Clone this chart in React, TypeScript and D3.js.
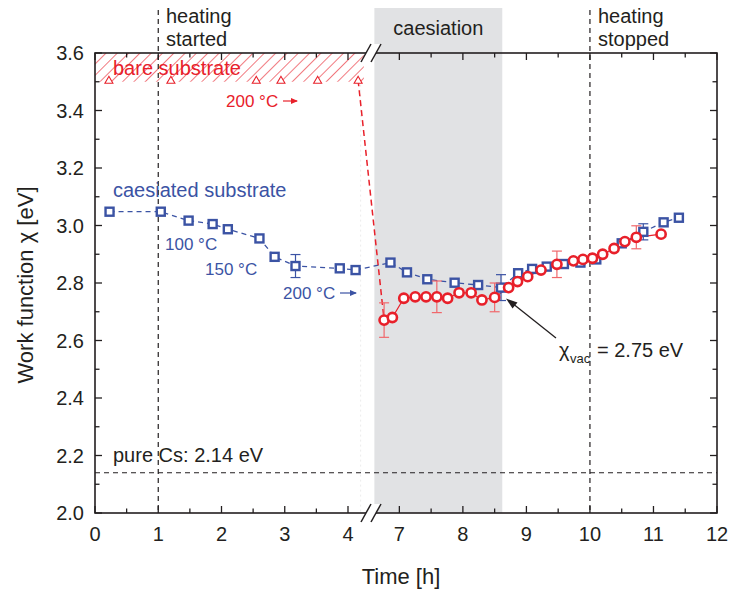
import React from 'react';
import * as d3 from 'd3';

// ---- data ----
const xMajor = [0, 1, 2, 3, 4, 7, 8, 9, 10, 11, 12];
const xMinor = [0.5, 1.5, 2.5, 3.5, 7.5, 8.5, 9.5, 10.5, 11.5];
const yMajor = [2.0, 2.2, 2.4, 2.6, 2.8, 3.0, 3.2, 3.4, 3.6];
const yMinor = [2.1, 2.3, 2.5, 2.7, 2.9, 3.1, 3.3, 3.5];

const blueTime = [0.23, 1.04, 1.48, 1.86, 2.10, 2.60, 2.84, 3.17, 3.87, 4.12, 6.86, 7.12, 7.44, 7.87, 8.24, 8.60, 8.87, 9.09, 9.32, 9.59, 9.85, 10.10, 10.50, 10.84, 11.16, 11.40];
const blueChi = [3.048, 3.048, 3.017, 3.005, 2.987, 2.955, 2.891, 2.859, 2.851, 2.845, 2.871, 2.837, 2.813, 2.801, 2.793, 2.784, 2.834, 2.849, 2.857, 2.866, 2.871, 2.882, 2.938, 2.978, 3.011, 3.027];
const blueErr = [0, 0, 0, 0, 0, 0, 0, 0.04, 0, 0, 0, 0, 0, 0, 0, 0.045, 0, 0, 0, 0, 0, 0, 0, 0.028, 0, 0];

const redTime = [6.76, 6.89, 7.07, 7.25, 7.42, 7.59, 7.76, 7.94, 8.13, 8.30, 8.50, 8.72, 8.86, 9.02, 9.23, 9.48, 9.74, 9.89, 10.04, 10.20, 10.38, 10.55, 10.73, 11.12];
const redChi = [2.671, 2.680, 2.747, 2.752, 2.752, 2.752, 2.747, 2.766, 2.766, 2.741, 2.750, 2.784, 2.805, 2.822, 2.845, 2.865, 2.877, 2.882, 2.886, 2.900, 2.920, 2.944, 2.959, 2.970];
const redErr = [0.06, 0, 0, 0, 0, 0.055, 0, 0, 0, 0, 0.05, 0, 0, 0, 0, 0.046, 0, 0, 0, 0, 0, 0, 0.04, 0];

const bareTime = [0.22, 1.2, 2.55, 2.94, 3.52, 4.16];
const bareChi = [3.505, 3.505, 3.505, 3.505, 3.505, 3.505];

const heatingStart = 1;
const heatingStop = 10;
const caesStart = 6.607;
const caesEnd = 8.62;
const pureCs = 2.14;
const bareTop = 3.6;
const bareBottom = 3.5;
const bareEnd = 4.25;

const BLUE = '#3b53a4';
const RED = '#e8202a';
const RED_ERR = '#f0686c';
const INK = '#231f20';
const FONT = '"Liberation Sans", Arial, Helvetica, sans-serif';

export default function App() {
  const x = d3.scaleLinear().domain([0, 4.37, 6.56, 12]).range([95, 371.4, 371.4, 717]);
  const y = d3.scaleLinear().domain([2.0, 3.6]).range([513, 53]);
  const [x0, x1] = [x(0), x(12)];
  const [yb, yt] = [y(2.0), y(3.6)];

  const line = d3.line<[number, number]>().x(d => x(d[0])).y(d => y(d[1]));
  const bluePts = blueTime.map((t, i) => [t, blueChi[i]] as [number, number]);
  const redPts = redTime.map((t, i) => [t, redChi[i]] as [number, number]);
  const dropPts: [number, number][] = [
    [bareTime[bareTime.length - 1], bareChi[bareChi.length - 1]],
    [redTime[0], redChi[0]],
  ];

  const breakC = [366, 376];
  const brk = (yy: number, key: string) => (
    <g key={key}>
      <polygon
        points={`${breakC[0] - 5},${yy + 9} ${breakC[0] + 5},${yy - 9} ${breakC[1] + 5},${yy - 9} ${breakC[1] - 5},${yy + 9}`}
        fill="#fff"
      />
      <line x1={breakC[0] - 5} y1={yy + 9} x2={breakC[0] + 5} y2={yy - 9} stroke={INK} strokeWidth={1.5} />
      <line x1={breakC[1] - 5} y1={yy + 9} x2={breakC[1] + 5} y2={yy - 9} stroke={INK} strokeWidth={1.5} />
    </g>
  );

  const majL = 7;
  const minL = 4.5;

  return (
    <svg width={733} height={590} style={{ position: 'absolute', left: 0, top: 0, background: '#fff' }} fontFamily={FONT}>
      <defs>
        <pattern id="hatch" width={8} height={8} patternUnits="userSpaceOnUse" patternTransform="rotate(45)">
          <line x1={0} y1={0} x2={0} y2={8} stroke={RED} strokeWidth={1.2} />
        </pattern>
      </defs>
      <rect x={0} y={0} width={733} height={590} fill="#fff" />

      {/* caesiation shading */}
      <rect x={x(caesStart)} y={8} width={x(caesEnd) - x(caesStart)} height={yb - 8} fill="#e1e2e4" />

      {/* bare substrate hatch */}
      <rect x={x0} y={y(bareTop)} width={x(bareEnd) - x0} height={y(bareBottom) - y(bareTop)} fill="url(#hatch)" />

      {/* faint dotted line */}
      <line x1={x(4.2)} x2={x(4.2)} y1={y(3.49)} y2={yb} stroke="#ececec" strokeWidth={1} strokeDasharray="2,3" />

      {/* heating lines */}
      {[heatingStart, heatingStop].map((t, i) => (
        <line key={i} x1={x(t)} x2={x(t)} y1={10} y2={yb} stroke={INK} strokeWidth={1.2} strokeDasharray="5,4" />
      ))}
      {/* pure Cs line */}
      <line x1={x0} x2={x1} y1={y(pureCs)} y2={y(pureCs)} stroke={INK} strokeWidth={1.2} strokeDasharray="5,4" />

      {/* blue line */}
      <path d={line(bluePts) || ''} fill="none" stroke={BLUE} strokeWidth={1.3} strokeDasharray="5,4" />
      {/* red lines */}
      <path d={line(dropPts) || ''} fill="none" stroke={RED} strokeWidth={1.5} strokeDasharray="6,4" />
      <path d={line(redPts) || ''} fill="none" stroke={RED} strokeWidth={1.2} />

      {/* blue error bars */}
      {bluePts.map((p, i) => blueErr[i] > 0 && (
        <g key={'be' + i} stroke={BLUE} strokeWidth={1.2}>
          <line x1={x(p[0])} x2={x(p[0])} y1={y(p[1] - blueErr[i])} y2={y(p[1] + blueErr[i])} />
          <line x1={x(p[0]) - 5} x2={x(p[0]) + 5} y1={y(p[1] - blueErr[i])} y2={y(p[1] - blueErr[i])} />
          <line x1={x(p[0]) - 5} x2={x(p[0]) + 5} y1={y(p[1] + blueErr[i])} y2={y(p[1] + blueErr[i])} />
        </g>
      ))}
      {/* blue squares */}
      {bluePts.map((p, i) => (
        <rect key={'bs' + i} x={x(p[0]) - 4} y={y(p[1]) - 4} width={8} height={8} fill="#fff" stroke={BLUE} strokeWidth={2.4} />
      ))}

      {/* red error bars */}
      {redPts.map((p, i) => redErr[i] > 0 && (
        <g key={'re' + i} stroke={RED_ERR} strokeWidth={1.2}>
          <line x1={x(p[0])} x2={x(p[0])} y1={y(p[1] - redErr[i])} y2={y(p[1] + redErr[i])} />
          <line x1={x(p[0]) - 5} x2={x(p[0]) + 5} y1={y(p[1] - redErr[i])} y2={y(p[1] - redErr[i])} />
          <line x1={x(p[0]) - 5} x2={x(p[0]) + 5} y1={y(p[1] + redErr[i])} y2={y(p[1] + redErr[i])} />
        </g>
      ))}
      {/* red circles */}
      {redPts.map((p, i) => (
        <circle key={'rc' + i} cx={x(p[0])} cy={y(p[1])} r={4.6} fill="#fff" stroke={RED} strokeWidth={2.6} />
      ))}

      {/* bare triangles */}
      {bareTime.map((t, i) => {
        const cx = x(t);
        const cy = y(bareChi[i]);
        return <path key={'tr' + i} d={`M${cx - 4},${cy + 3} L${cx + 4},${cy + 3} L${cx},${cy - 4} Z`} fill="#fff" stroke={RED} strokeWidth={1.1} />;
      })}

      {/* frame */}
      <rect x={x0} y={yt} width={x1 - x0} height={yb - yt} fill="none" stroke={INK} strokeWidth={1.6} />

      {/* ticks */}
      <g stroke={INK} strokeWidth={1.3}>
        {xMajor.map(t => (
          <g key={'xm' + t}>
            <line x1={x(t)} x2={x(t)} y1={yb} y2={yb - majL} />
            <line x1={x(t)} x2={x(t)} y1={yt} y2={yt + majL} />
          </g>
        ))}
        {xMinor.map(t => (
          <g key={'xn' + t}>
            <line x1={x(t)} x2={x(t)} y1={yb} y2={yb - minL} />
            <line x1={x(t)} x2={x(t)} y1={yt} y2={yt + minL} />
          </g>
        ))}
        {yMajor.map(v => (
          <g key={'ym' + v}>
            <line x1={x0} x2={x0 + majL} y1={y(v)} y2={y(v)} />
            <line x1={x1} x2={x1 - majL} y1={y(v)} y2={y(v)} />
          </g>
        ))}
        {yMinor.map(v => (
          <g key={'yn' + v}>
            <line x1={x0} x2={x0 + minL} y1={y(v)} y2={y(v)} />
            <line x1={x1} x2={x1 - minL} y1={y(v)} y2={y(v)} />
          </g>
        ))}
      </g>

      {/* axis breaks */}
      {brk(yb, 'bb')}
      {brk(yt, 'bt')}

      {/* tick labels */}
      <g fill={INK} fontSize={20}>
        {xMajor.map(t => (
          <text key={'xl' + t} x={x(t)} y={541} textAnchor="middle">{t}</text>
        ))}
        {yMajor.map(v => (
          <text key={'yl' + v} x={84} y={y(v) + 7} textAnchor="end">{v.toFixed(1)}</text>
        ))}
      </g>

      {/* axis titles */}
      <text x={401} y={584} textAnchor="middle" fontSize={22} fill={INK}>Time [h]</text>
      <text transform={`translate(33,${(yb + yt) / 2 + 2}) rotate(-90)`} textAnchor="middle" fontSize={22} fill={INK}>Work function χ [eV]</text>

      {/* annotations */}
      <g fill={INK} fontSize={20}>
        <text x={166} y={23}>heating</text>
        <text x={166} y={46}>started</text>
        <text x={598} y={23}>heating</text>
        <text x={598} y={46}>stopped</text>
        <text x={(x(caesStart) + x(caesEnd)) / 2} y={35} textAnchor="middle">caesiation</text>
        <text x={113} y={462}>pure Cs: 2.14 eV</text>
      </g>

      <text x={113} y={75} fontSize={20} fill={RED}>bare substrate</text>
      <text x={226} y={107} fontSize={17} fill={RED}>200 °C</text>
      <line x1={283} x2={297} y1={101} y2={101} stroke={RED} strokeWidth={1.2} />
      <path d="M298,101 L291,98 L291,104 Z" fill={RED} />

      <g fill={BLUE}>
        <text x={113} y={197} fontSize={20}>caesiated substrate</text>
        <text x={165} y={250} fontSize={17}>100 °C</text>
        <text x={205} y={275} fontSize={17}>150 °C</text>
        <text x={283} y={299} fontSize={17}>200 °C</text>
      </g>
      <line x1={340} x2={356} y1={293} y2={293} stroke={BLUE} strokeWidth={1.2} />
      <path d="M357,293 L350,290 L350,296 Z" fill={BLUE} />

      {/* chi_vac annotation */}
      <line x1={556} y1={338} x2={512} y2={303} stroke={INK} strokeWidth={1.3} />
      <path d="M506,298.5 L517.5,302.5 L512.5,308.5 Z" fill={INK} />
      <text x={559} y={357} fontSize={20} fill={INK}>χ</text>
      <text x={570} y={363} fontSize={13} fill={INK}>vac</text>
      <text x={597} y={357} fontSize={20} fill={INK}>= 2.75 eV</text>
    </svg>
  );
}
